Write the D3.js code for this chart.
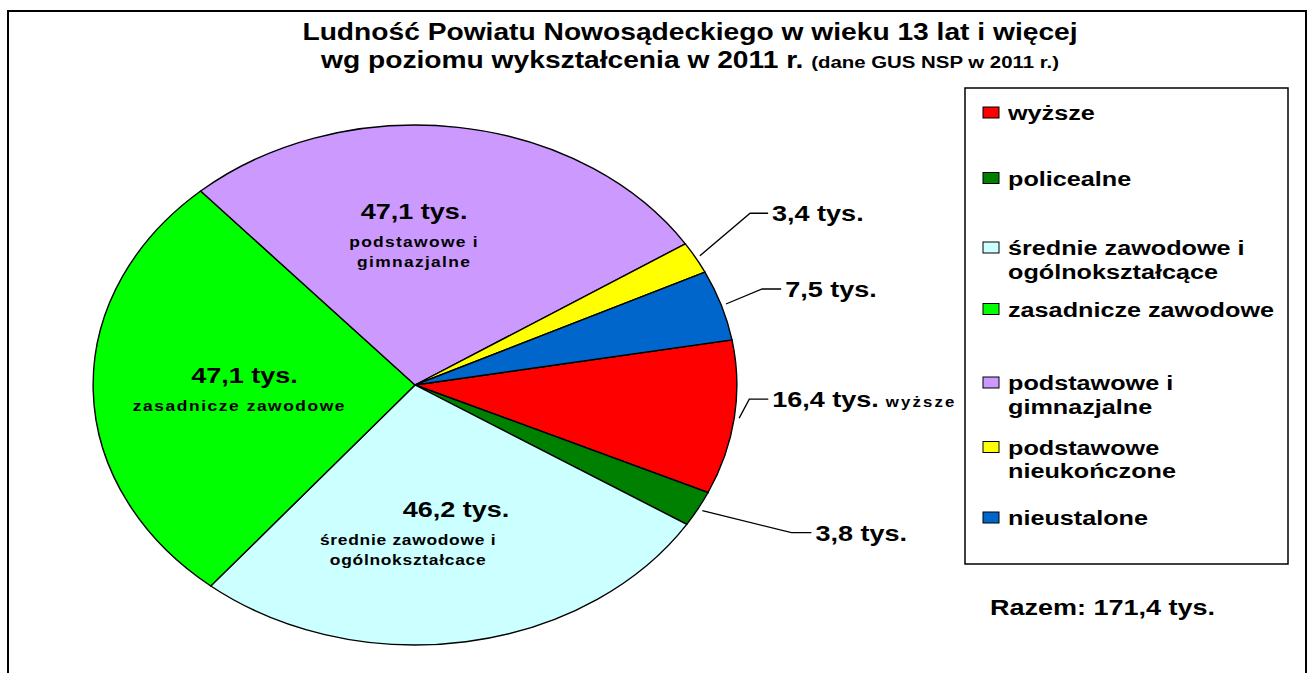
<!DOCTYPE html>
<html>
<head>
<meta charset="utf-8">
<script src="https://cdn.jsdelivr.net/npm/d3@7/dist/d3.min.js"></script>
<style>
  body { margin: 0; background: #fff; overflow: hidden; }
  text { font-family: "Liberation Sans", Arial, sans-serif; font-weight: bold; fill: #000; }
</style>
</head>
<body>
<script>
// data (tys. osób)
const categories = ['wyższe', 'policealne', 'średnie zawodowe i ogólnokształcące', 'zasadnicze zawodowe',
  'podstawowe i gimnazjalne', 'podstawowe nieukończone', 'nieustalone']
const values = [16.4, 3.8, 46.2, 47.1, 47.1, 3.4, 7.5]
const valueLabels = ['16,4 tys.', '3,8 tys.', '46,2 tys.', '47,1 tys.', '47,1 tys.', '3,4 tys.', '7,5 tys.']
const legendLines = [['wyższe'], ['policealne'], ['średnie zawodowe i', 'ogólnokształcące'], ['zasadnicze zawodowe'],
  ['podstawowe i', 'gimnazjalne'], ['podstawowe', 'nieukończone'], ['nieustalone']]
const innerNames = [null, null, ['średnie zawodowe i', 'ogólnokształcace'], ['zasadnicze zawodowe'],
  ['podstawowe i', 'gimnazjalne'], null, null]
const outerSuffix = ['wyższe', '', '', '', '', '', '']
const total = 'Razem: 171,4 tys.'
const colors = ['#ff0000', '#008000', '#ccffff', '#00ff00', '#cc99ff', '#ffff00', '#0066cc']

// layout
const width = 1312
const height = 673
const cx = 415
const cy = 385
const ry = 260
const stretch = 1.238 // pie is drawn as a horizontally stretched circle
const textStretch = 1.2
const deg = Math.PI / 180

// label placement: inner labels at a fraction of the radius, outer labels via elbow (angle, radius factor)
const labelLayout = [
  { outer: true, angle: 93, rf: 1.04, run: 19 },
  { outer: true, angle: 115.9, rf: 1.30, run: 20 },
  { outer: false, rf: 0.61, dxValue: 10, dxName: -38, spacing: 0.6 },
  { outer: false, rf: 0.53, dxValue: 0, dxName: -5, dy: 11, spacing: 1.3 },
  { outer: false, rf: 0.56, dxValue: -25, dxName: -25, dy: 3, spacing: 1.1 },
  { outer: true, angle: 57.6, rf: 1.233, run: 18 },
  { outer: true, angle: 71.1, rf: 1.14, run: 19 }
]

const svg = d3.select('body').append('svg')
  .attr('width', width)
  .attr('height', height)

// outer frame
svg.append('rect')
  .attr('x', 8).attr('y', 11)
  .attr('width', 1298).attr('height', 720)
  .attr('fill', 'none').attr('stroke', '#000').attr('stroke-width', 2)

function label (g, x, y, str, size) {
  return g.append('text')
    .attr('transform', `translate(${x},${y}) scale(${textStretch},1)`)
    .attr('font-size', size)
    .text(str)
}

// title
label(svg, 690, 40, 'Ludność Powiatu Nowosądeckiego w wieku 13 lat i więcej', 23.5)
  .attr('text-anchor', 'middle')
const t2 = svg.append('text')
  .attr('transform', `translate(690,68) scale(${textStretch},1)`)
  .attr('text-anchor', 'middle')
  .attr('font-size', 23.5)
t2.append('tspan').text('wg poziomu wykształcenia w 2011 r. ')
t2.append('tspan').attr('font-size', 17).text('(dane GUS NSP w 2011 r.)')

// pie
const pie = d3.pie().sort(null).value(d => d)
  .startAngle(80 * deg).endAngle(440 * deg)
const arcs = pie(values)
const arc = d3.arc().innerRadius(0).outerRadius(ry)

const pieG = svg.append('g')
  .attr('transform', `translate(${cx},${cy}) scale(${stretch},1)`)
pieG.selectAll('path')
  .data(arcs)
  .join('path')
  .attr('d', arc)
  .attr('fill', (d, i) => colors[i])
  .attr('stroke', '#000')
  .attr('stroke-width', 1.4)
  .attr('vector-effect', 'non-scaling-stroke')

function polar (a, r) {
  return [cx + Math.sin(a) * r * stretch, cy - Math.cos(a) * r]
}

const labelG = svg.append('g')
arcs.forEach((d, i) => {
  const lay = labelLayout[i]
  const mid = (d.startAngle + d.endAngle) / 2
  if (lay.outer) {
    const p0 = polar(mid, ry * 1.015)
    const p1 = polar(lay.angle * deg, ry * lay.rf)
    const p2 = [p1[0] + lay.run, p1[1]]
    labelG.append('path')
      .attr('d', d3.line()([p0, p1, p2]))
      .attr('fill', 'none')
      .attr('stroke', '#000')
      .attr('stroke-width', 1.3)
    const t = labelG.append('text')
      .attr('transform', `translate(${p2[0] + 4},${p1[1] + 8}) scale(${textStretch},1)`)
      .attr('font-size', 22.5)
    t.append('tspan').text(valueLabels[i])
    if (outerSuffix[i]) {
      t.append('tspan').attr('font-size', 14).attr('letter-spacing', 1.8).text(' ' + outerSuffix[i])
    }
  } else {
    const c = polar(mid, ry * lay.rf)
    const lines = innerNames[i]
    const top = c[1] - (lines.length * 19) / 2 - 6 + (lay.dy || 0)
    label(labelG, c[0] + lay.dxValue, top, valueLabels[i], 22.5).attr('text-anchor', 'middle')
    lines.forEach((ln, j) => {
      label(labelG, c[0] + lay.dxName, top + 28 + j * 20, ln, 14.5)
        .attr('text-anchor', 'middle')
        .attr('letter-spacing', lay.spacing)
    })
  }
})

// legend
const legend = svg.append('g')
legend.append('rect')
  .attr('x', 965).attr('y', 88)
  .attr('width', 323).attr('height', 476)
  .attr('fill', '#fff').attr('stroke', '#000').attr('stroke-width', 1.5)

const legendY = d3.scalePoint()
  .domain(categories)
  .range([112, 517])
const legendOffsets = [0, -2, 0, -6, 0, -3, 0]

categories.forEach((c, i) => {
  const y = legendY(c) + legendOffsets[i]
  legend.append('rect')
    .attr('x', 983).attr('y', y - 5)
    .attr('width', 16).attr('height', 11)
    .attr('fill', colors[i]).attr('stroke', '#000').attr('stroke-width', 1)
  legendLines[i].forEach((ln, j) => {
    label(legend, 1008, y + 8 + j * 23.5, ln, 21)
  })
})

label(svg, 990, 615, total, 22.5)
</script>
</body>
</html>
